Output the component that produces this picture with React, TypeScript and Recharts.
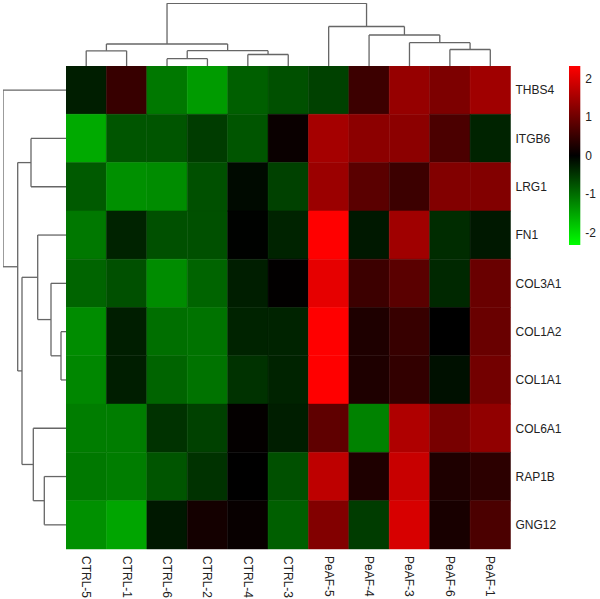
import React from 'react';
import { ComposedChart, XAxis, YAxis, ReferenceArea, ReferenceLine, Scatter } from 'recharts';

const samples = ['CTRL-5', 'CTRL-1', 'CTRL-6', 'CTRL-2', 'CTRL-4', 'CTRL-3', 'PeAF-5', 'PeAF-4', 'PeAF-3', 'PeAF-6', 'PeAF-1'];
const genes = ['THBS4', 'ITGB6', 'LRG1', 'FN1', 'COL3A1', 'COL1A2', 'COL1A1', 'COL6A1', 'RAP1B', 'GNG12'];

// z-scores per gene, in sample order above
const thbs4 = [-0.27, 0.5, -1.08, -1.4, -0.86, -0.72, -0.59, 0.54, 1.35, 1.13, 1.44];
const itgb6 = [-1.53, -0.77, -0.77, -0.54, -0.77, 0.09, 1.49, 1.26, 1.26, 0.68, -0.32];
const lrg1 = [-0.81, -1.3, -1.26, -0.72, -0.09, -0.59, 1.4, 0.81, 0.54, 1.17, 1.17];
const fn1 = [-1.08, -0.32, -0.72, -0.72, -0.02, -0.32, 2.3, -0.22, 1.44, -0.4, -0.22];
const col3a1 = [-0.9, -0.72, -1.26, -0.9, -0.27, 0.02, 2.07, 0.54, 0.81, -0.36, 0.95];
const col1a2 = [-1.26, -0.27, -1.0, -1.04, -0.32, -0.32, 2.3, 0.27, 0.5, 0.0, 0.95];
const col1a1 = [-1.22, -0.27, -0.9, -1.04, -0.45, -0.32, 2.3, 0.27, 0.45, -0.14, 1.04];
const col6a1 = [-1.13, -1.13, -0.45, -0.59, 0.04, -0.27, 0.86, -1.17, 1.58, 1.08, 1.31];
const rap1b = [-1.08, -1.13, -0.77, -0.45, 0.0, -0.72, 1.71, 0.27, 1.8, 0.27, 0.4];
const gng12 = [-1.3, -1.49, -0.22, 0.18, 0.07, -0.86, 1.17, -0.54, 1.94, 0.22, 0.68];
const expression = [thbs4, itgb6, lrg1, fn1, col3a1, col1a2, col1a1, col6a1, rap1b, gng12];

// hclust style: negative = leaf (1-based, display order), positive = earlier merge
const sampleMerge = [[-3, -4], [-5, -6], [-1, -2], [1, 2], [-10, -11], [3, 4], [-9, 5], [-8, 7], [-7, 8], [6, 9]];
const sampleHeight = [1.46, 2.3, 3.04, 3.06, 3.3, 4.4, 4.66, 6.2, 7.9, 12.54];
const geneMerge = [[-6, -7], [-5, 1], [-9, -10], [-4, 2], [-8, 3], [-2, -3], [4, 5], [6, 7], [-1, 8]];
const geneHeight = [1.0, 3.0, 4.34, 5.66, 6.54, 7.0, 8.8, 9.66, 12.6];

const colorTicks = [-2, -1, 0, 1, 2];
const colorLimit = 2.3;

const FONT = '"Liberation Sans", Arial, sans-serif';
const LINE = '#666';

function cellColor(v: number) {
  const t = Math.min(1, Math.abs(v) / colorLimit);
  const c = Math.round(t * 255);
  return v >= 0 ? `rgb(${c},0,0)` : `rgb(0,${c},0)`;
}

function dendroSegments(merge: number[][], height: number[]) {
  const pos: number[] = [];
  const segs: number[][] = [];
  const node = (id: number) => (id < 0 ? { p: -id - 0.5, h: 0 } : { p: pos[id - 1], h: height[id - 1] });
  merge.forEach(([a, b], i) => {
    const A = node(a);
    const B = node(b);
    const h = height[i];
    segs.push([A.p, A.h, A.p, h], [A.p, h, B.p, h], [B.p, h, B.p, B.h]);
    pos[i] = (A.p + B.p) / 2;
  });
  return segs;
}

const cells = expression.flatMap((row, r) => row.map((v, c) => ({ r, c, v })));
const sampleSegs = dendroSegments(sampleMerge, sampleHeight);
const geneSegs = dendroSegments(geneMerge, geneHeight);

const HM_LEFT = 66;
const HM_TOP = 66;
const HM_W = 444.5;
const HM_H = 483;

const SampleTick = (props: any) => {
  const { x, y, payload } = props;
  return (
    <text x={x} y={y} transform={`rotate(90 ${x} ${y})`} textAnchor="start" dominantBaseline="central"
      fontSize={12} fontFamily={FONT} fill="#222">
      {samples[Math.floor(payload.value)]}
    </text>
  );
};

const dummy = [{ x: 0, y: 0 }];

export default function App() {
  return (
    <div style={{ position: 'fixed', left: 0, top: 0, width: 600, height: 599, background: '#fff' }}>
      {/* column dendrogram */}
      <div style={{ position: 'absolute', left: HM_LEFT, top: 3 }}>
        <ComposedChart width={HM_W} height={63} margin={{ top: 0, right: 0, bottom: 0, left: 0 }}>
          <XAxis type="number" dataKey="x" domain={[0, 11]} allowDataOverflow hide />
          <YAxis type="number" dataKey="y" domain={[0, 12.6]} allowDataOverflow hide />
          <Scatter data={dummy} isAnimationActive={false} shape={() => <g />} />
          {sampleSegs.map((s, i) => (
            <ReferenceLine key={i} segment={[{ x: s[0], y: s[1] }, { x: s[2], y: s[3] }]}
              stroke={LINE} strokeWidth={1.3} ifOverflow="visible" />
          ))}
        </ComposedChart>
      </div>

      {/* row dendrogram */}
      <div style={{ position: 'absolute', left: 3, top: HM_TOP }}>
        <ComposedChart width={63} height={HM_H} margin={{ top: 0, right: 0, bottom: 0, left: 0 }}>
          <XAxis type="number" dataKey="x" domain={[0, 12.6]} reversed allowDataOverflow hide />
          <YAxis type="number" dataKey="y" domain={[0, 10]} reversed allowDataOverflow hide />
          <Scatter data={dummy} isAnimationActive={false} shape={() => <g />} />
          {geneSegs.map((s, i) => (
            <ReferenceLine key={i} segment={[{ x: s[1], y: s[0] }, { x: s[3], y: s[2] }]}
              stroke={LINE} strokeWidth={1.3} ifOverflow="visible" />
          ))}
        </ComposedChart>
      </div>

      {/* heatmap */}
      <div style={{ position: 'absolute', left: HM_LEFT, top: HM_TOP }}>
        <ComposedChart width={HM_W + 80} height={HM_H + 50} margin={{ top: 0, right: 0, bottom: 0, left: 0 }}>
          <XAxis type="number" dataKey="c" domain={[0, 11]} allowDataOverflow height={50}
            ticks={samples.map((_, i) => i + 0.5)} interval={0} axisLine={false} tickLine={false}
            tickSize={6} tickMargin={1} tick={<SampleTick />} />
          <YAxis type="number" dataKey="r" orientation="right" domain={[0, 10]} reversed allowDataOverflow width={80}
            ticks={genes.map((_, i) => i + 0.5)} interval={0} axisLine={false} tickLine={false}
            tickSize={3} tickMargin={2} tickFormatter={(v: number) => genes[Math.floor(v)]}
            tick={{ fontSize: 12, fontFamily: FONT, fill: '#222' }} />
          <Scatter data={cells} isAnimationActive={false} shape={() => <g />} />
          {cells.map((d) => (
            <ReferenceArea key={`${d.r}-${d.c}`} x1={d.c} x2={d.c + 1} y1={d.r} y2={d.r + 1}
              fill={cellColor(d.v)} fillOpacity={1} stroke={cellColor(d.v)} strokeWidth={0.5} ifOverflow="visible" />
          ))}
        </ComposedChart>
      </div>

      {/* color key */}
      <div style={{ position: 'absolute', left: 569, top: 65.7 }}>
        <ComposedChart width={11.3 + 30} height={179.3} margin={{ top: 0, right: 0, bottom: 0, left: 0 }}>
          <defs>
            <linearGradient id="keyGrad" x1="0" y1="0" x2="0" y2="1">
              <stop offset="0%" stopColor="#ff0000" />
              <stop offset="50%" stopColor="#000000" />
              <stop offset="100%" stopColor="#00ff00" />
            </linearGradient>
          </defs>
          <XAxis type="number" dataKey="x" domain={[0, 1]} allowDataOverflow hide />
          <YAxis type="number" dataKey="y" orientation="right" domain={[-2.33, 2.33]} allowDataOverflow width={30}
            ticks={colorTicks} interval={0} axisLine={false} tickLine={false} tickSize={3} tickMargin={2}
            tick={{ fontSize: 12, fontFamily: FONT, fill: '#222' }} />
          <Scatter data={dummy} isAnimationActive={false} shape={() => <g />} />
          <ReferenceArea x1={0} x2={1} y1={-2.33} y2={2.33} fill="url(#keyGrad)" fillOpacity={1} ifOverflow="visible" />
        </ComposedChart>
      </div>
    </div>
  );
}
